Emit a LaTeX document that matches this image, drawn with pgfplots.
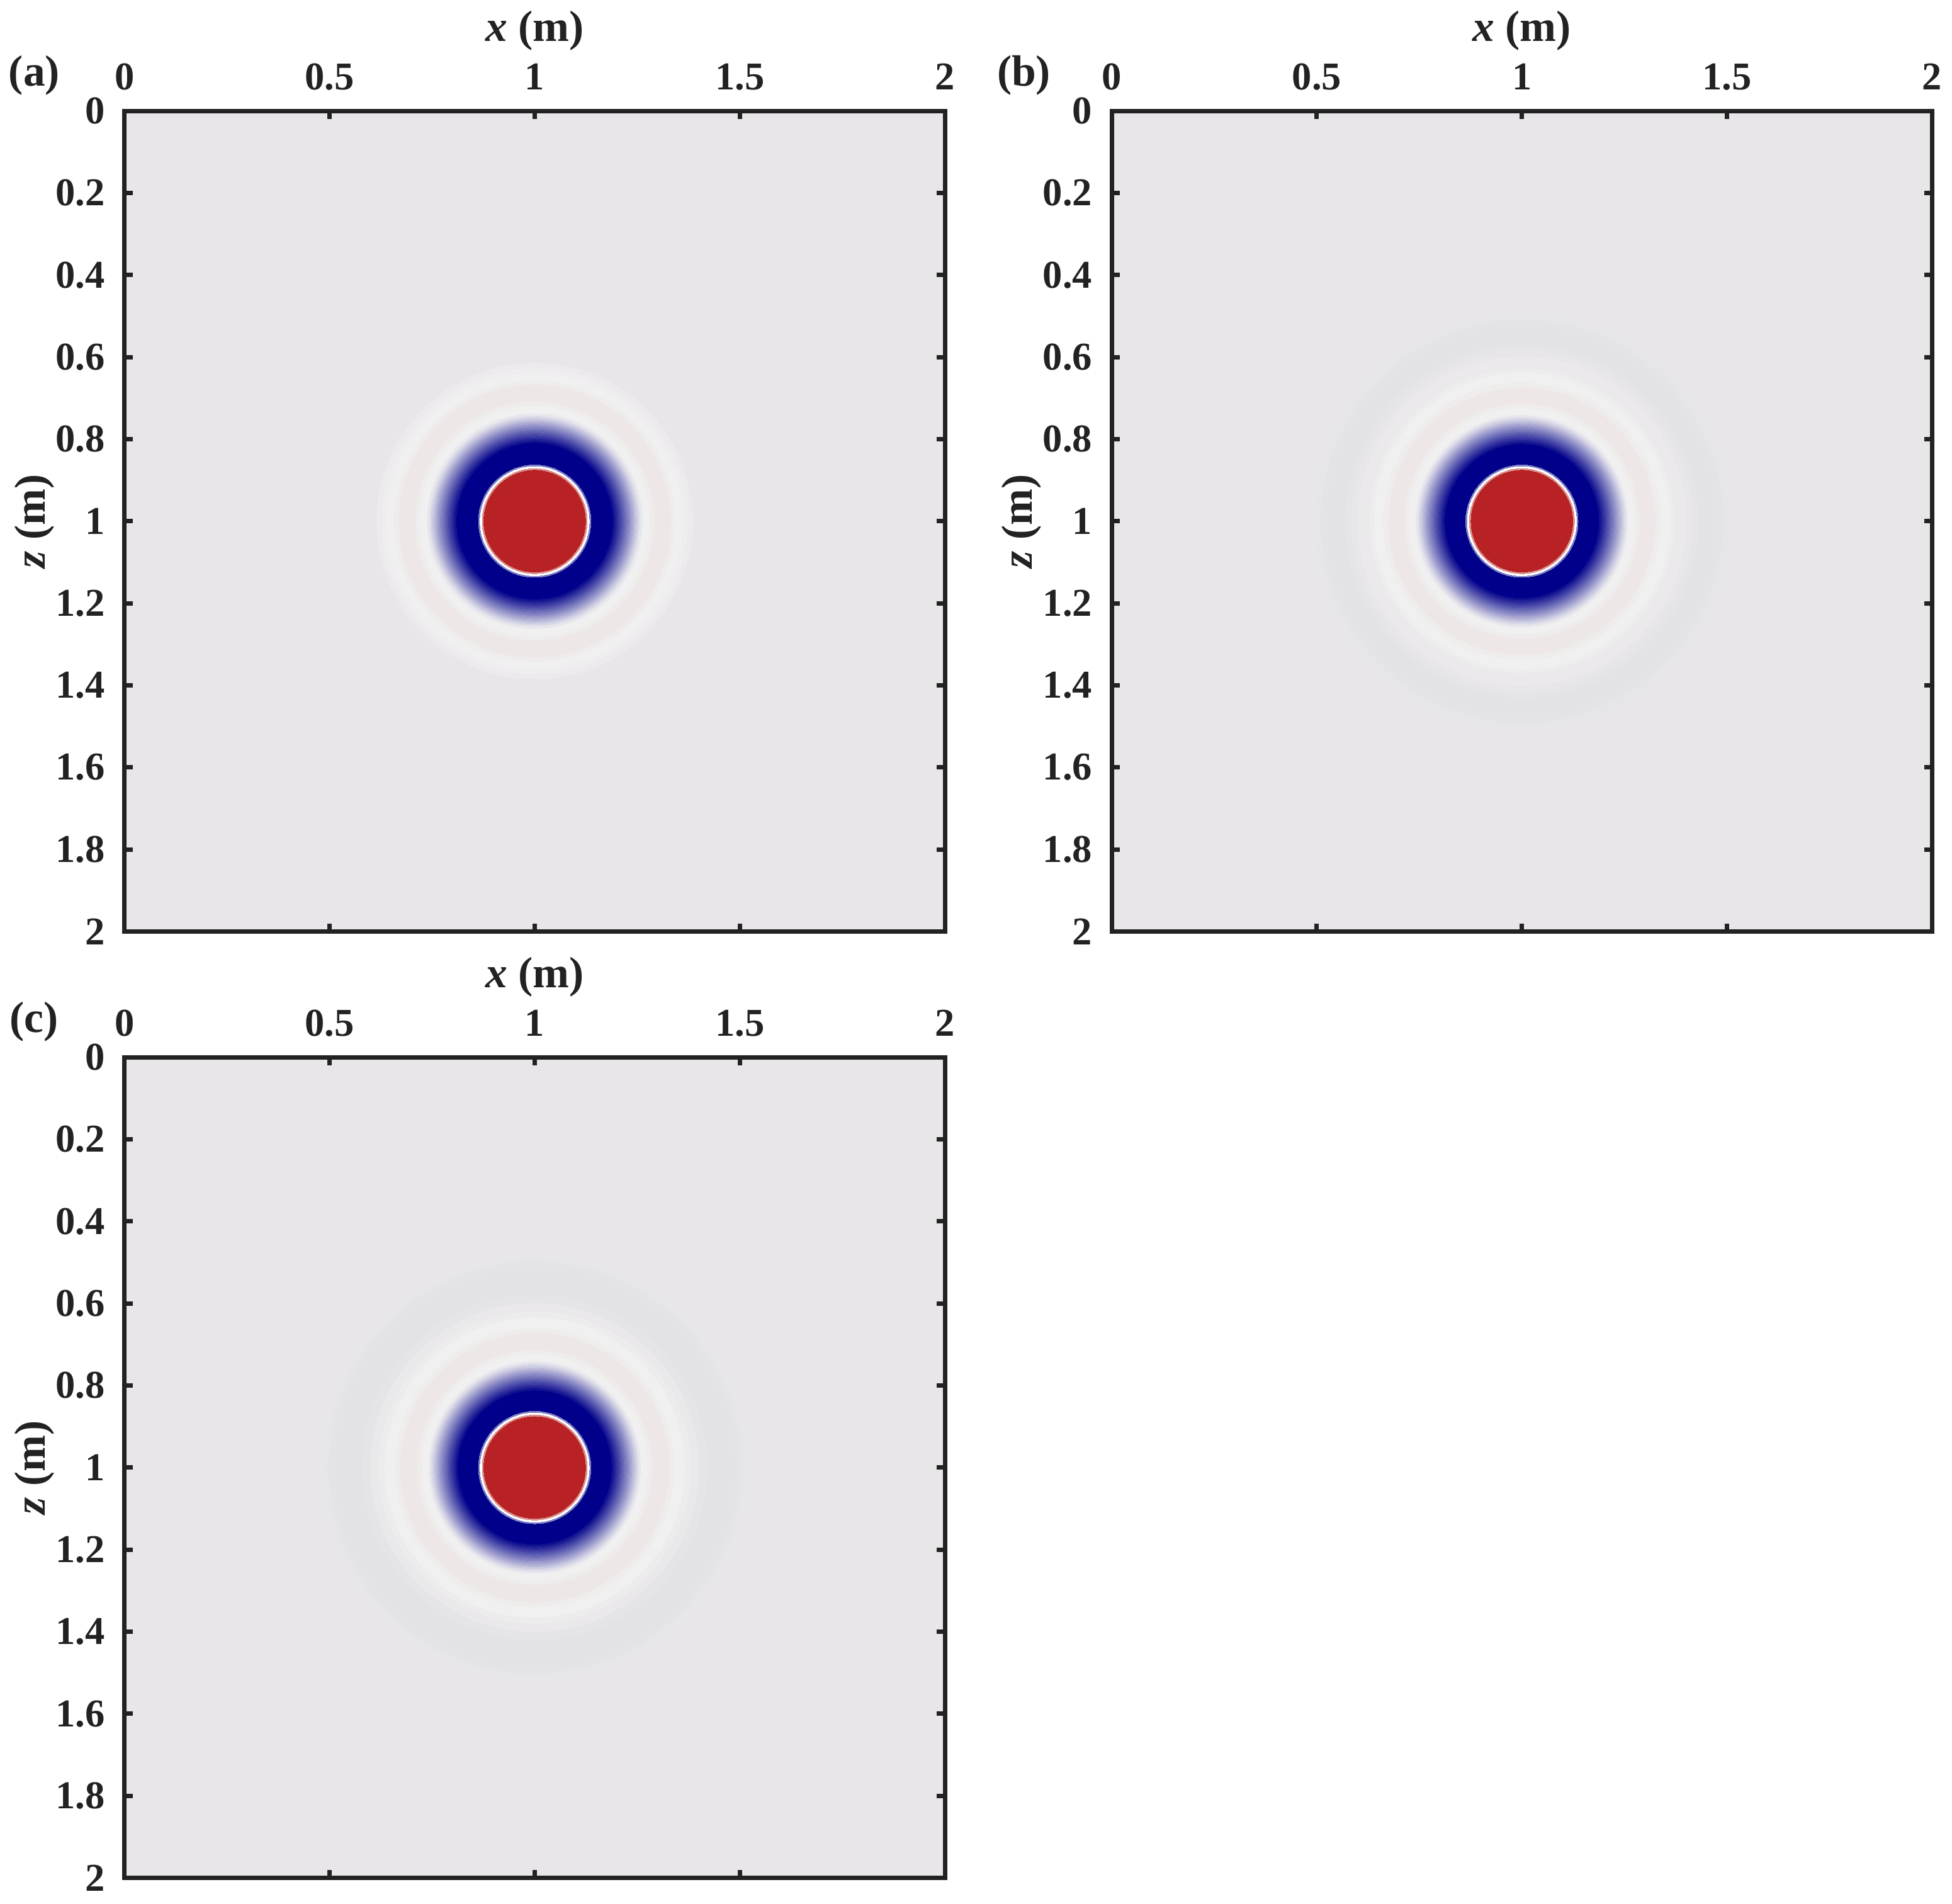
\documentclass[border=0pt]{standalone}
\usepackage{pgfplots}
\pgfplotsset{compat=1.18}
\usepackage{fontspec}
\setmainfont{Liberation Serif}
\definecolor{bg}{RGB}{232,230,232}
\definecolor{wh}{RGB}{241,240,241}
\definecolor{pk}{RGB}{238,231,232}
\definecolor{lv}{RGB}{227,226,231}
\definecolor{nv}{RGB}{0,0,138}
\definecolor{rd}{RGB}{184,34,36}
\definecolor{ax}{RGB}{34,34,34}
% one disk of the wavefield: radius (m) and colour, centred at the source (1,1)
\newcommand{\R}[2]{\addplot[only marks, mark=*, mark size=#1*32.95mm, color=#2, line width=0pt, forget plot] coordinates {(1,1)};}
\pgfplotsset{myax/.style={
  width=65.9mm, height=65.9mm, scale only axis,
  xmin=0, xmax=2, ymin=0, ymax=2, y dir=reverse,
  xtick={0,0.5,1,1.5,2},
  ytick={0,0.2,0.4,0.6,0.8,1,1.2,1.4,1.6,1.8,2},
  xticklabel pos=upper,
  tick align=inside, major tick length=0.65mm,
  axis line style={ax, line width=1pt},
  every tick/.style={ax, line width=1pt},
  /pgf/number format/assume math mode=true,
  tick label style={font=\fontsize{9}{10}\selectfont\bfseries, inner sep=0pt, text=ax},
  xticklabel style={anchor=base, yshift=1.7mm},
  yticklabel style={anchor=east, xshift=-1.5mm},
  label style={font=\fontsize{10}{12}\selectfont\bfseries, inner sep=0pt, text=ax},
  xlabel={\textit{x} (m)}, ylabel={\textit{z} (m)},
  xlabel style={at={(axis description cs:0.5,1.085)}, anchor=base},
  ylabel style={at={(axis description cs:-0.097,0.5)}, anchor=base},
  axis background/.style={fill=bg},
}}
\begin{document}
\begin{tikzpicture}
\path (0,0) rectangle (156.8mm,-152.9mm);
% ---------------- (a)
\begin{axis}[myax, at={(10mm,-8.9mm)}, anchor=north west]
\R{0.385}{wh!40!bg}
\R{0.372}{wh!75!bg}
\R{0.360}{wh}
\R{0.342}{pk!50!wh}
\R{0.332}{pk}
\R{0.290}{pk!50!wh}
\R{0.280}{wh}
\R{0.262}{nv!4!wh}
\R{0.255}{nv!10!wh}
\R{0.250}{nv!16!wh}
\R{0.245}{nv!23!wh}
\R{0.240}{nv!30!wh}
\R{0.235}{nv!37!wh}
\R{0.230}{nv!44!wh}
\R{0.225}{nv!51!wh}
\R{0.220}{nv!58!wh}
\R{0.215}{nv!65!wh}
\R{0.210}{nv!72!wh}
\R{0.205}{nv!79!wh}
\R{0.200}{nv!86!wh}
\R{0.195}{nv!93!wh}
\R{0.190}{nv}
\R{0.137}{nv!50!white}
\R{0.133}{white}
\R{0.128}{rd!50!white}
\R{0.124}{rd}
\end{axis}
% ---------------- (b)
\begin{axis}[myax, at={(89.3mm,-8.9mm)}, anchor=north west]
\R{0.505}{lv!30!bg}
\R{0.490}{lv!70!bg}
\R{0.475}{lv}
\R{0.430}{lv!60!bg}
\R{0.415}{bg}
\R{0.400}{wh!30!bg}
\R{0.370}{wh!70!bg}
\R{0.360}{wh}
\R{0.338}{pk!50!wh}
\R{0.325}{pk}
\R{0.285}{pk!50!wh}
\R{0.275}{wh}
\R{0.258}{nv!4!wh}
\R{0.252}{nv!10!wh}
\R{0.247}{nv!16!wh}
\R{0.242}{nv!23!wh}
\R{0.237}{nv!30!wh}
\R{0.232}{nv!37!wh}
\R{0.227}{nv!44!wh}
\R{0.222}{nv!51!wh}
\R{0.217}{nv!58!wh}
\R{0.212}{nv!65!wh}
\R{0.207}{nv!72!wh}
\R{0.202}{nv!79!wh}
\R{0.197}{nv!86!wh}
\R{0.192}{nv!93!wh}
\R{0.187}{nv}
\R{0.137}{nv!50!white}
\R{0.133}{white}
\R{0.128}{rd!50!white}
\R{0.124}{rd}
\end{axis}
% ---------------- (c)
\begin{axis}[myax, at={(10mm,-84.9mm)}, anchor=north west]
\R{0.512}{lv!30!bg}
\R{0.500}{lv!70!bg}
\R{0.485}{lv}
\R{0.420}{lv!60!bg}
\R{0.400}{wh!20!bg}
\R{0.380}{wh!60!bg}
\R{0.365}{wh}
\R{0.340}{pk!50!wh}
\R{0.328}{pk}
\R{0.285}{pk!50!wh}
\R{0.275}{wh}
\R{0.258}{nv!4!wh}
\R{0.252}{nv!10!wh}
\R{0.247}{nv!16!wh}
\R{0.242}{nv!23!wh}
\R{0.237}{nv!30!wh}
\R{0.232}{nv!37!wh}
\R{0.227}{nv!44!wh}
\R{0.222}{nv!51!wh}
\R{0.217}{nv!58!wh}
\R{0.212}{nv!65!wh}
\R{0.207}{nv!72!wh}
\R{0.202}{nv!79!wh}
\R{0.197}{nv!86!wh}
\R{0.192}{nv!93!wh}
\R{0.187}{nv}
\R{0.137}{nv!50!white}
\R{0.133}{white}
\R{0.128}{rd!50!white}
\R{0.124}{rd}
\end{axis}
\node[anchor=base, inner sep=0pt, text=ax, font=\fontsize{10}{12}\selectfont\bfseries] at (2.75mm,-6.9mm) {(a)};
\node[anchor=base, inner sep=0pt, text=ax, font=\fontsize{10}{12}\selectfont\bfseries] at (82.25mm,-6.9mm) {(b)};
\node[anchor=base, inner sep=0pt, text=ax, font=\fontsize{10}{12}\selectfont\bfseries] at (2.75mm,-82.9mm) {(c)};
\end{tikzpicture}
\end{document}
